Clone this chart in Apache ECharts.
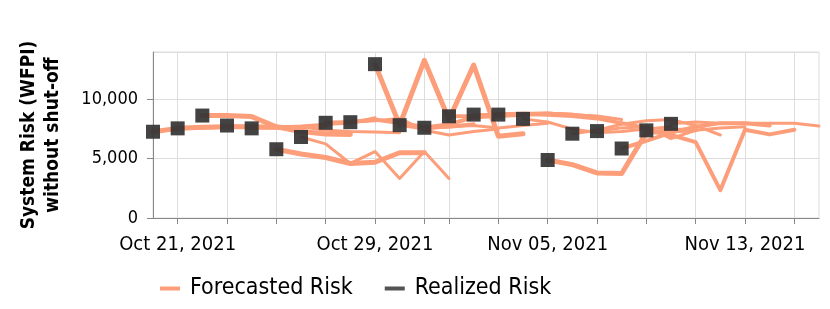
<!DOCTYPE html>
<html><head><meta charset="utf-8">
<script src="https://cdn.jsdelivr.net/npm/echarts@6.0.0/dist/echarts.min.js"></script>
<style>html,body{margin:0;padding:0;background:#fff}#c{width:830px;height:309px}</style>
</head><body><div id="c"></div>
<script>
// ---- data ----
const dates = ['2021-10-20','2021-10-21','2021-10-22','2021-10-23','2021-10-24','2021-10-25','2021-10-26','2021-10-27','2021-10-28','2021-10-29','2021-10-30','2021-10-31','2021-11-01','2021-11-02','2021-11-03','2021-11-04','2021-11-05','2021-11-06','2021-11-07','2021-11-08','2021-11-09','2021-11-10','2021-11-11','2021-11-12','2021-11-13','2021-11-14','2021-11-15','2021-11-16'];
const realized = [7275,7560,8640,7800,7560,5800,6830,8030,8080,12975,7830,7610,8580,8720,8720,8360,4890,7110,7330,5860,7390,7940];
const forecastStart = [0,1,2,3,4,5,6,7,8,9,10,11,12,13,14,15,16,17,18,19,20,21];
const forecastValues = [
  [7275,7560,7650,7700,7700,7650,7600],
  [7560,7620,7700,7650,7700,7600,7800],
  [8640,8640,8550,7700,7300,7080,7050],
  [7800,7700,7650,7750,7900,8000,8450],
  [7560,7600,7700,7400,7300,7250,7200],
  [5800,5400,5100,4600,4700,5500,5500],
  [6830,6250,4600,5600,3330,5600,3330],
  [8030,8100,8300,8000,7700,7700,7900],
  [8080,8200,8400,7400,7000,7300,7500],
  [12975,7830,13300,8300,12900,6900,7100],
  [7830,7500,7700,7800,7600,7800,8000],
  [7610,7900,8500,8600,8700,8800,8700],
  [8580,8600,8750,8800,8800,8700,8500],
  [8720,8700,8800,8850,8700,8600,8300],
  [8720,8800,8700,8600,8400,8000,7600],
  [8360,8100,7500,7200,7300,7500,7700],
  [4890,4500,3800,3750,7200,7350,7450],
  [7110,7400,7900,8200,8300,7800,7000],
  [7330,7600,7700,6700,7400,7600,7700],
  [5860,6500,7200,7700,8000,8000,7800],
  [7390,7000,6400,2350,7450,7050,7450],
  [7940,8100,8000,8000,8000,8000,7750]
];
const tickDates = ['2021-10-21','2021-10-23','2021-10-25','2021-10-27','2021-10-29','2021-10-31','2021-11-01','2021-11-03','2021-11-05','2021-11-07','2021-11-09','2021-11-11','2021-11-13','2021-11-15'];
const labelDates = ['2021-10-21','2021-10-29','2021-11-05','2021-11-13'];
const monthNames = ['Jan','Feb','Mar','Apr','May','Jun','Jul','Aug','Sep','Oct','Nov','Dec'];

// ---- styles ----
const forecastWidths = [5,4,5,3,3,5,3,4,3,5,3,4,4,3,4,3,5,3,3,4,4,3];
const FC = '#fd9e7a';
const FONT = 'DejaVu Sans Condensed, DejaVu Sans, sans-serif';

function fmtDate(s){
  const p = s.split('-');
  return monthNames[+p[1]-1] + ' ' + p[2] + ', ' + p[0];
}

const series = [];
forecastValues.forEach((vals, k) => {
  const s0 = forecastStart[k];
  series.push({
    name: 'Forecasted Risk', type: 'line', symbol: 'none', silent: true,
    data: vals.map((v, j) => [dates[s0 + j], v]),
    lineStyle: { color: FC, width: forecastWidths[k], cap: 'round', join: 'round' },
    itemStyle: { color: FC }, z: 2
  });
});
series.push({
  name: 'Realized Risk', type: 'scatter', symbol: 'rect', symbolSize: 14,
  data: realized.map((v, i) => [dates[i], v]),
  itemStyle: { color: '#333', opacity: 0.92 }, z: 5
});

const chart = echarts.init(document.getElementById('c'), null, { renderer: 'canvas' });
chart.setOption({
  animation: false,
  textStyle: { fontFamily: FONT },
  grid: { left: 153, right: 11, top: 52, bottom: 91, show: true, borderColor: '#ddd', borderWidth: 1, backgroundColor: 'transparent' },
  legend: {
    left: 155, top: 272, itemWidth: 20, itemHeight: 4, itemGap: 32,
    textStyle: { fontSize: 23, color: '#000', fontFamily: FONT, padding: [0, 0, 0, 5] },
    data: [
      { name: 'Forecasted Risk', icon: 'rect', itemStyle: { color: FC } },
      { name: 'Realized Risk', icon: 'rect', itemStyle: { color: '#444' } }
    ]
  },
  xAxis: {
    type: 'category', data: dates, boundaryGap: false,
    axisLine: { lineStyle: { color: '#888', width: 1 } },
    axisTick: { show: true, length: 6, interval: (i, v) => tickDates.includes(v), lineStyle: { color: '#888' } },
    axisLabel: { interval: (i, v) => labelDates.includes(v), formatter: v => fmtDate(v), fontSize: 20, color: '#000', margin: 17, fontFamily: FONT },
    splitLine: { show: true, interval: (i, v) => tickDates.includes(v), lineStyle: { color: '#ddd', width: 1 } }
  },
  yAxis: {
    type: 'value', min: 0, max: 14000, interval: 5000,
    name: 'System Risk (WFPI)\nwithout shut-off', nameLocation: 'middle', nameRotate: 90, nameGap: 88,
    nameTextStyle: { fontWeight: 'bold', fontSize: 19, lineHeight: 24, color: '#000', fontFamily: FONT },
    axisLine: { show: true, lineStyle: { color: '#888', width: 1 } },
    axisTick: { show: true, length: 6, lineStyle: { color: '#888' } },
    axisLabel: { fontSize: 18, color: '#000', margin: 15, showMaxLabel: false, formatter: v => v.toLocaleString('en-US'), fontFamily: FONT },
    splitLine: { show: true, lineStyle: { color: '#ddd', width: 1 } }
  },
  series: series
});
</script>
</body></html>
